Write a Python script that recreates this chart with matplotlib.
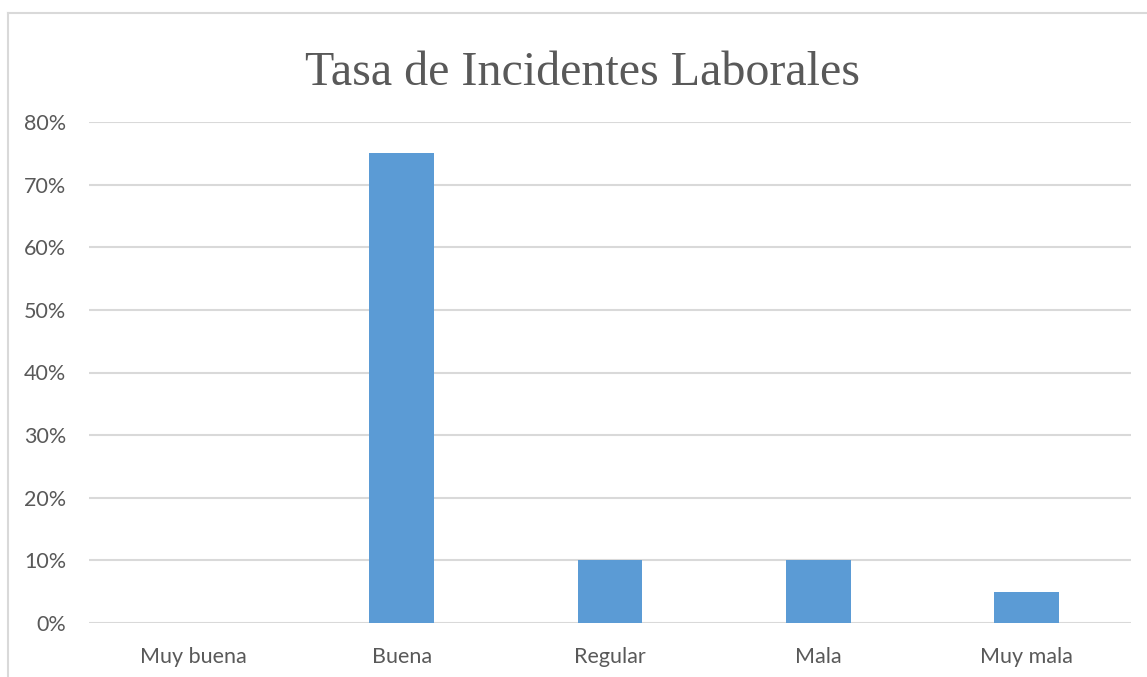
import matplotlib.pyplot as plt
from matplotlib.lines import Line2D
from matplotlib.ticker import PercentFormatter

categorias = ["Muy buena", "Buena", "Regular", "Mala", "Muy mala"]
tasas = [0.0, 0.75, 0.10, 0.10, 0.05]
marcas_y = [0.0, 0.1, 0.2, 0.3, 0.4, 0.5, 0.6, 0.7, 0.8]

GRIS_TXT = "#595959"
GRIS_LINEA = "#D9D9D9"
AZUL = "#5B9BD5"

W, H = 1147, 677
fig = plt.figure(figsize=(W / 100, H / 100), dpi=100)
ax = fig.add_axes([89 / W, 1 - 623 / H, (1131 - 89) / W, (623 - 122) / H])

x = range(len(categorias))
ax.bar(x, tasas, width=0.31, color=AZUL, zorder=3)

ax.set_xlim(-0.5, len(categorias) - 0.5)
ax.set_ylim(0, 0.8)
ax.set_yticks(marcas_y)
ax.yaxis.set_major_formatter(PercentFormatter(1.0, decimals=0))
ax.set_xticks(list(x))
ax.set_xticklabels(categorias)
ax.grid(axis="y", color=GRIS_LINEA, linewidth=1.5, zorder=0)
for s in ax.spines.values():
    s.set_visible(False)
ax.tick_params(axis="both", length=0, labelsize=15.5, labelcolor=GRIS_TXT)
ax.tick_params(axis="y", pad=16.5)
ax.tick_params(axis="x", pad=17)
for t in ax.get_xticklabels() + ax.get_yticklabels():
    t.set_fontfamily("Lato")

# marco del gráfico (recortado a la derecha y abajo)
fig.add_artist(Line2D([8 / W, 8 / W], [0, 1 - 13 / H], color=GRIS_LINEA, lw=1.5))
fig.add_artist(Line2D([8 / W, 1], [1 - 13 / H, 1 - 13 / H], color=GRIS_LINEA, lw=1.5))

fig.text(583 / W, 1 - 85 / H, "Tasa de Incidentes Laborales", ha="center", va="baseline",
         fontsize=34.6, color=GRIS_TXT, family="Liberation Serif")

fig.savefig("out.png", dpi=100)
